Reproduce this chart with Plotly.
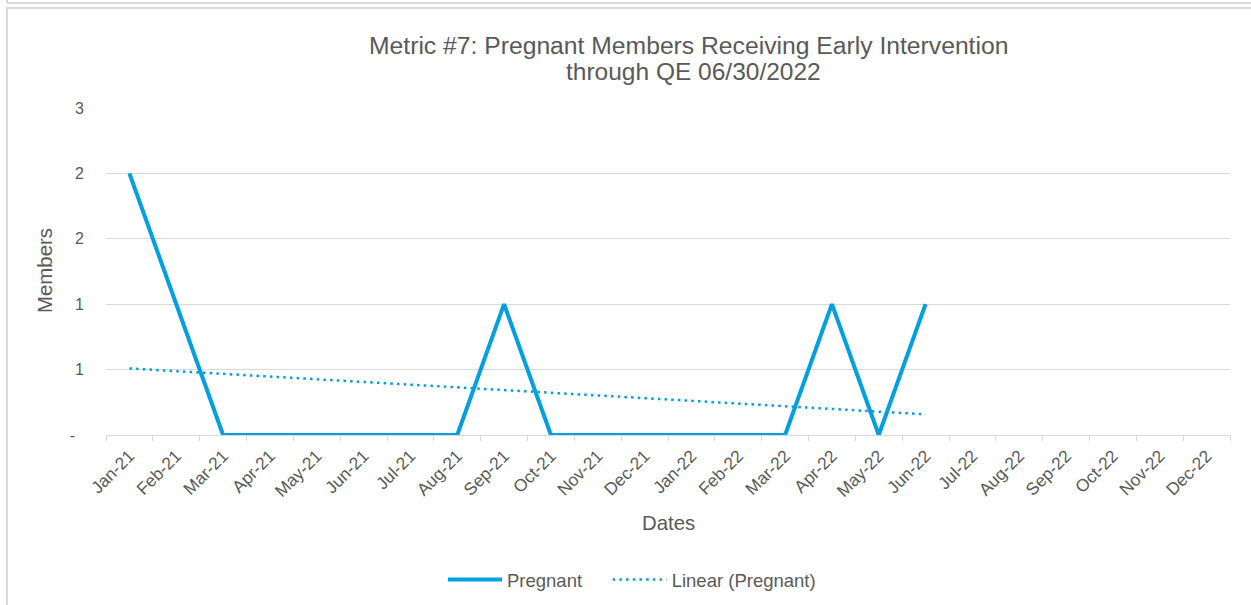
import numpy as np
import plotly.graph_objects as go

months = ["Jan-21", "Feb-21", "Mar-21", "Apr-21", "May-21", "Jun-21", "Jul-21", "Aug-21",
          "Sep-21", "Oct-21", "Nov-21", "Dec-21", "Jan-22", "Feb-22", "Mar-22", "Apr-22",
          "May-22", "Jun-22", "Jul-22", "Aug-22", "Sep-22", "Oct-22", "Nov-22", "Dec-22"]
pregnant = [2, 1, 0, 0, 0, 0, 0, 0, 1, 0, 0, 0, 0, 0, 0, 1, 0, 1]
ytick_vals = [0, 0.5, 1, 1.5, 2, 2.5]
ytick_text = ["-\u00a0\u00a0", "1", "1", "2", "2", "3"]

# Linear trend (as Excel's linear trendline)
xi = np.arange(len(pregnant))
slope, intercept = np.polyfit(xi, pregnant, 1)
trend = list(intercept + slope * xi)

BLUE = "#009FDF"
GREY = "#595959"
FONT = "Liberation Sans, Arial, sans-serif"
GAP = "\u00a0" * 4

fig = go.Figure()
fig.add_trace(go.Scatter(x=months[:len(pregnant)], y=pregnant, mode="lines", name="Pregnant" + GAP,
                         line=dict(color=BLUE, width=4)))
fig.add_trace(go.Scatter(x=months[:len(pregnant)], y=trend, mode="lines", name="Linear (Pregnant)",
                         line=dict(color=BLUE, width=2.5, dash="2.5px,4.2px")))

L, R, T, B = 106, 1230, 108, 435
W, H = 1251, 605
pw, ph = R - L, B - T

def px(x):
    return (x - L) / pw

def py(y):
    return (B - y) / ph

fig.update_layout(
    width=W, height=H,
    margin=dict(l=L, r=W - R, t=T, b=H - B, autoexpand=False),
    paper_bgcolor="white", plot_bgcolor="white",
    font=dict(family=FONT, color=GREY, size=16),
    showlegend=True,
    legend=dict(orientation="h", x=px(443), y=py(580), xanchor="left", yanchor="middle",
                font=dict(size=18.5, color=GREY), itemwidth=54, bgcolor="rgba(0,0,0,0)"),
    xaxis=dict(type="category", categoryorder="array", categoryarray=months,
               range=[-0.5, len(months) - 0.5], tickson="boundaries",
               ticks="outside", ticklen=5, tickcolor="#d9d9d9",
               showline=True, linecolor="#d9d9d9", linewidth=1,
               showgrid=False, tickangle=-45, tickfont=dict(size=17.3, color=GREY),
               ticklabelstandoff=3, zeroline=False),
    yaxis=dict(range=[0, 2.5], tickvals=ytick_vals, ticktext=ytick_text,
               showgrid=True, gridcolor="#d9d9d9", gridwidth=1, zeroline=False,
               showline=False, tickfont=dict(size=16, color=GREY), ticklabelstandoff=21),
    annotations=[
        dict(text="Metric #7: Pregnant Members Receiving Early Intervention",
             xref="paper", yref="paper", x=px(688), y=py(45), xanchor="center", yanchor="middle",
             showarrow=False, font=dict(size=24.7, color=GREY, family=FONT)),
        dict(text="through QE 06/30/2022",
             xref="paper", yref="paper", x=px(693), y=py(71), xanchor="center", yanchor="middle",
             showarrow=False, font=dict(size=24.5, color=GREY, family=FONT)),
        dict(text="Dates", xref="paper", yref="paper", x=px(668), y=py(523),
             xanchor="center", yanchor="middle", showarrow=False,
             font=dict(size=20.4, color=GREY, family=FONT)),
        dict(text="Members", xref="paper", yref="paper", x=px(45), y=py(271),
             xanchor="center", yanchor="middle", textangle=-90, showarrow=False,
             font=dict(size=20.4, color=GREY, family=FONT)),
    ],
    shapes=[
        dict(type="rect", xref="paper", yref="paper", x0=px(7), x1=px(1260), y0=py(8), y1=py(620),
             line=dict(color="#d9d9d9", width=2), fillcolor="rgba(0,0,0,0)", layer="below"),
        dict(type="line", xref="paper", yref="paper", x0=px(7), x1=px(1260), y0=py(3), y1=py(3),
             line=dict(color="#d9d9d9", width=2)),
        dict(type="line", xref="paper", yref="paper", x0=px(7), x1=px(7), y0=py(-5), y1=py(3),
             line=dict(color="#d9d9d9", width=2)),
    ],
)

fig.write_html("out.html", config={"displayModeBar": False},
               post_script="document.body.style.margin='0';document.body.style.overflow='hidden';")
